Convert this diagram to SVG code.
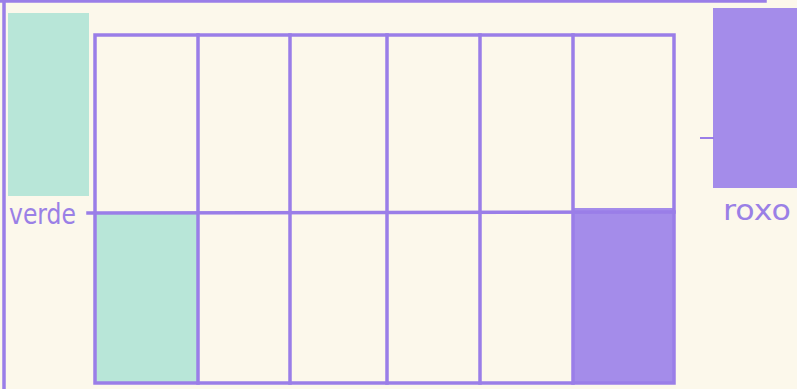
<svg xmlns="http://www.w3.org/2000/svg" width="797" height="389" viewBox="0 0 797 389">
<style>
.ln{stroke:#9a7ee8;stroke-width:3.5;fill:none;stroke-linecap:square}
.g{fill:#b8e6d8}
.p{fill:#a48cea}
.t{font-family:"DejaVu Sans",sans-serif;font-size:29px;fill:#9a80e6}
</style>
<rect width="797" height="389" fill="#fcf8eb"/>
<g id="legend-verde">
<rect class="g" x="8" y="13" width="81" height="183"/>
<text class="t" x="9" y="224" textLength="67" lengthAdjust="spacingAndGlyphs">verde</text>
</g>
<g id="legend-roxo">
<rect class="p" x="713" y="8" width="84" height="180"/>
<text class="t" x="723" y="220" textLength="68" lengthAdjust="spacingAndGlyphs">roxo</text>
</g>
<g id="cell-verde"><rect class="g" x="96" y="214" width="102" height="169"/></g>
<g id="cell-roxo"><rect class="p" x="573" y="208" width="101" height="175"/></g>
<g id="connectors">
<line class="ln" x1="0" y1="1" x2="765" y2="1"/>
<line class="ln" x1="4" y1="0" x2="4" y2="389"/>
<rect class="ln" x="95" y="35" width="579" height="348"/>
<line class="ln" x1="88" y1="213" x2="674" y2="212"/>
<line class="ln" x1="198" y1="35" x2="198" y2="383"/>
<line class="ln" x1="290" y1="35" x2="290" y2="383"/>
<line class="ln" x1="387" y1="35" x2="387" y2="383"/>
<line class="ln" x1="480" y1="35" x2="480" y2="383"/>
<line class="ln" x1="573" y1="35" x2="573" y2="383"/>
<line class="ln" x1="701" y1="138" x2="713" y2="138" style="stroke-width:2"/>
</g>
</svg>
